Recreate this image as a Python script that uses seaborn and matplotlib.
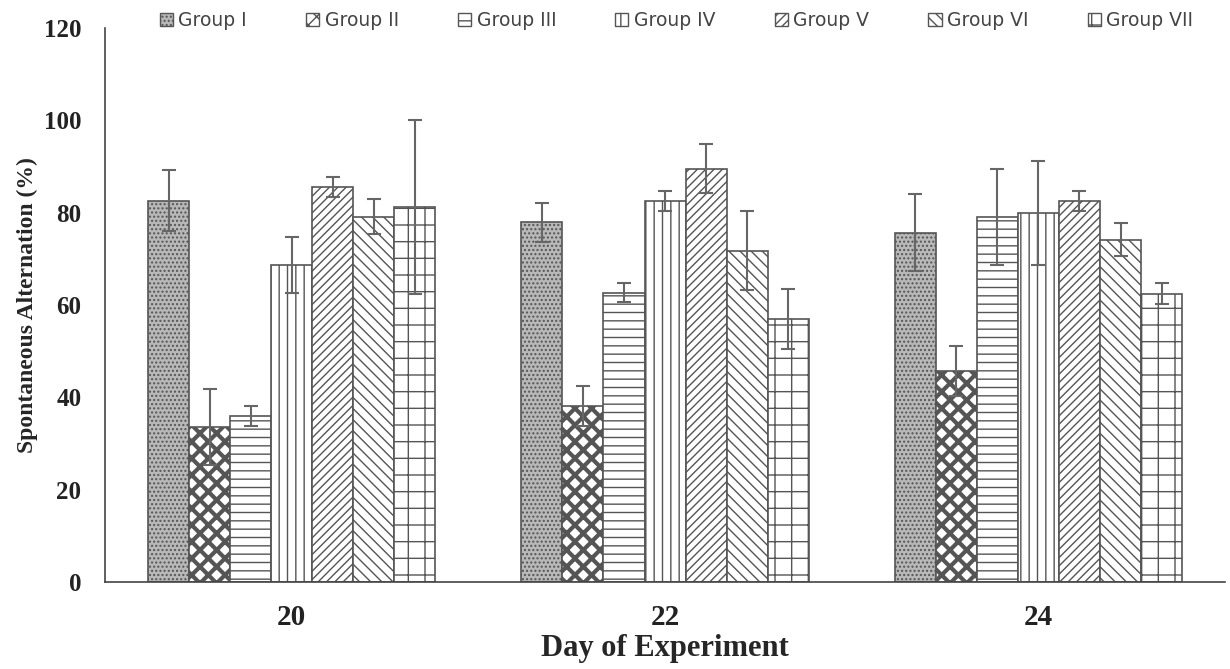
import pandas as pd
import matplotlib.pyplot as plt
import seaborn as sns
from matplotlib.patches import Patch


# =========================
# Data
# =========================
days = ["20", "22", "24"]
groups = ["Group I", "Group II", "Group III", "Group IV",
          "Group V", "Group VI", "Group VII"]

# mean per group, one value per day
mean_g1 = [82.6, 77.9, 75.7]
mean_g2 = [33.6, 38.2, 45.7]
mean_g3 = [36.0, 62.7, 79.0]
mean_g4 = [68.7, 82.5, 80.0]
mean_g5 = [85.6, 89.5, 82.5]
mean_g6 = [79.1, 71.8, 74.2]
mean_g7 = [81.3, 56.9, 62.5]

# error (SD) per group
err_g1 = [6.6, 4.3, 8.3]
err_g2 = [8.2, 4.3, 5.5]
err_g3 = [2.2, 2.0, 10.4]
err_g4 = [6.0, 2.2, 11.3]
err_g5 = [2.2, 5.3, 2.2]
err_g6 = [3.8, 8.6, 3.6]
err_g7 = [18.8, 6.5, 2.2]

means = [mean_g1, mean_g2, mean_g3, mean_g4, mean_g5, mean_g6, mean_g7]
errs = [err_g1, err_g2, err_g3, err_g4, err_g5, err_g6, err_g7]

hatches = ["....", "xx", "--", "||", "////", "\\\\\\", "+"]
hatch_lw = [1.0, 3.0, 1.0, 1.0, 1.0, 1.0, 1.0]
faces = ["#b8b8b8", "white", "white", "white", "white", "white", "white"]
EDGE = "#555555"

rows = []
for g, vals in zip(groups, means):
    for d, v in zip(days, vals):
        rows.append({"day": d, "group": g, "value": v})
df = pd.DataFrame(rows)


# =========================
# Plot
# =========================
sns.set_style("white")
plt.rcParams["hatch.linewidth"] = 1.0

fig = plt.figure(figsize=(12.3, 6.69), dpi=100)
ax = fig.add_axes([0.0854, 0.130, 0.9106, 0.828])

sns.barplot(
    data=df, x="day", y="value", hue="group",
    order=days, hue_order=groups,
    palette=["white"] * len(groups),
    width=0.77, errorbar=None, legend=False, ax=ax,
)

bar_containers = list(ax.containers)
handles = []
for i, cont in enumerate(bar_containers):
    for bar in cont:
        bar.set_facecolor(faces[i])
        bar.set_edgecolor(EDGE)
        bar.set_hatch(hatches[i])
        if hasattr(bar, "set_hatch_linewidth"):
            bar.set_hatch_linewidth(hatch_lw[i])
        bar.set_linewidth(1.2)
    xs = [b.get_x() + b.get_width() / 2 for b in cont]
    ax.errorbar(xs, means[i], yerr=errs[i], fmt="none",
                ecolor="#666666", elinewidth=1.5, capsize=5, capthick=1.5)
    h = Patch(facecolor=faces[i], edgecolor=EDGE, hatch=hatches[i], linewidth=1.0)
    if hasattr(h, "set_hatch_linewidth"):
        h.set_hatch_linewidth(min(hatch_lw[i], 2.0))
    handles.append(h)

ax.set_ylim(0, 120)
ax.set_yticks(range(0, 121, 20))
ax.set_xlim(-0.5, 2.5)

for side in ["top", "right"]:
    ax.spines[side].set_visible(False)
for side in ["left", "bottom"]:
    ax.spines[side].set_color("#444444")
    ax.spines[side].set_linewidth(1.2)

ax.tick_params(axis="both", length=0)
ax.tick_params(axis="y", pad=17)
ax.tick_params(axis="x", pad=16)
for lab in ax.get_yticklabels():
    lab.set_fontfamily("Liberation Serif")
    lab.set_fontweight("bold")
    lab.set_fontsize(18)
    lab.set_color("#222222")
for lab in ax.get_xticklabels():
    lab.set_fontfamily("Liberation Serif")
    lab.set_fontweight("bold")
    lab.set_fontsize(21)
    lab.set_color("#222222")

ax.set_xlabel("Day of Experiment", fontfamily="Liberation Serif",
              fontweight="bold", fontsize=22, labelpad=2)
ax.set_ylabel("Spontaneous Alternation (%)", fontfamily="Liberation Serif",
              fontweight="bold", fontsize=17, labelpad=4)

fig.legend(handles, groups, loc="center", bbox_to_anchor=(0.55, 0.969),
           ncol=7, frameon=False, handlelength=0.7,
           handleheight=0.7, handletextpad=0.3, columnspacing=3.15,
           prop={"family": "DejaVu Sans", "size": 13.5})
for t in fig.legends[0].get_texts():
    t.set_color("#444444")

fig.savefig("out.png", dpi=100)
plt.close()
